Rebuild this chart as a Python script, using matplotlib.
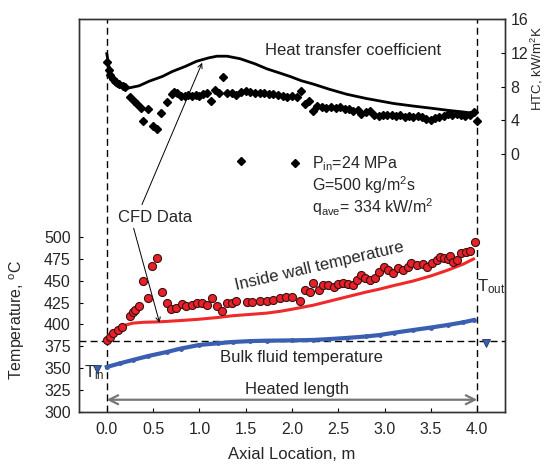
import matplotlib
matplotlib.use('Agg')

import matplotlib.pyplot as plt
from matplotlib.lines import Line2D

plt.rcParams['font.family'] = ['Liberation Sans', 'DejaVu Sans']
plt.rcParams['mathtext.default'] = 'regular'

# heat transfer coefficient, kW/m2K
htc_exp_x = [0.00, 0.02, 0.04, 0.07, 0.10, 0.13, 0.17, 0.20, 0.25, 0.29, 0.33, 0.37,
             0.39, 0.44, 0.50, 0.54, 0.59, 0.65, 0.70, 0.73, 0.76, 0.80, 0.84, 0.88,
             0.92, 0.96, 1.00, 1.04, 1.08, 1.13, 1.17, 1.21, 1.26, 1.30, 1.35, 1.40,
             1.45, 1.50, 1.55, 1.60, 1.65, 1.70, 1.75, 1.80, 1.85, 1.90, 1.95, 2.00,
             2.05, 2.10, 2.14, 2.18, 2.23, 2.27, 2.32, 2.37, 2.42, 2.47, 2.52, 2.57,
             2.62, 2.66, 2.71, 2.75, 2.80, 2.84, 2.89, 2.94, 2.98, 3.03, 3.08, 3.12,
             3.17, 3.22, 3.26, 3.31, 3.36, 3.40, 3.45, 3.50, 3.54, 3.59, 3.64, 3.68,
             3.73, 3.78, 3.82, 3.87, 3.92, 3.96, 4.00, 1.45]
htc_exp = [10.9, 10.0, 9.4, 8.9, 8.6, 8.3, 8.1, 7.9, 6.8, 6.3, 5.9, 5.5,
           3.9, 5.3, 3.3, 3.0, 4.9, 6.2, 7.1, 7.4, 7.2, 6.9, 6.9, 7.0,
           6.9, 7.0, 6.9, 7.1, 7.3, 6.3, 7.6, 7.2, 9.1, 7.3, 7.2, 7.0,
           7.4, 7.5, 7.4, 7.3, 7.3, 7.2, 7.1, 7.1, 7.0, 6.9, 6.8, 6.9,
           6.8, 7.5, 5.9, 6.3, 5.1, 5.7, 5.6, 5.5, 5.6, 5.5, 5.6, 5.3,
           5.4, 5.1, 5.2, 4.8, 5.0, 5.1, 4.7, 4.5, 4.6, 4.7, 4.7, 4.5,
           4.6, 4.4, 4.5, 4.4, 4.5, 4.4, 4.2, 4.0, 4.3, 4.4, 4.5, 4.8,
           4.6, 4.8, 4.7, 4.5, 4.7, 5.0, 3.9, -0.8]

htc_cfd_x = [0.0, 0.03, 0.065, 0.12, 0.22, 0.35, 0.46, 0.6, 0.71, 0.85, 0.97, 1.1,
             1.19, 1.3, 1.44, 1.6, 1.73, 1.87, 1.98, 2.1, 2.23, 2.4, 2.59, 2.8,
             2.95, 3.1, 3.31, 3.5, 3.68, 3.85, 3.96]
htc_cfd = [11.9, 10.0, 8.5, 8.0, 7.8, 8.1, 8.65, 9.2, 9.8, 10.4, 11.0, 11.4,
           11.6, 11.6, 11.3, 10.7, 10.1, 9.6, 9.2, 8.7, 8.3, 7.7, 7.1, 6.6,
           6.3, 6.0, 5.7, 5.45, 5.2, 5.0, 4.85]

# inside wall temperature, deg C
wall_exp_x = [0.00, 0.03, 0.07, 0.12, 0.16, 0.25, 0.28, 0.31, 0.35, 0.39, 0.45, 0.49,
              0.54, 0.60, 0.65, 0.69, 0.75, 0.81, 0.86, 0.92, 0.97, 1.03, 1.08, 1.14,
              1.19, 1.24, 1.30, 1.35, 1.40, 1.51, 1.57, 1.65, 1.73, 1.80, 1.87, 1.94,
              2.00, 2.09, 2.14, 2.19, 2.23, 2.29, 2.34, 2.39, 2.45, 2.50, 2.55, 2.61,
              2.66, 2.70, 2.74, 2.79, 2.84, 2.90, 2.94, 2.99, 3.04, 3.09, 3.15, 3.20,
              3.25, 3.29, 3.35, 3.41, 3.46, 3.51, 3.57, 3.60, 3.64, 3.68, 3.71, 3.74,
              3.78, 3.83, 3.88, 3.92, 3.98]
wall_exp = [382, 386, 390, 393.7, 397, 409.7, 414, 416.6, 421, 449.7, 430, 466.9,
            476, 437, 424.6, 417.7, 418.9, 423.4, 421, 422.3, 424.6, 424.6, 422.3, 430,
            421, 415.4, 424.6, 424.6, 426.9, 425.7, 425.7, 427, 427, 428, 430, 431.5,
            431.5, 427, 439.4, 437, 447.4, 439.4, 445, 445, 443, 446, 447.4, 446,
            445, 451, 456.6, 453, 451, 453, 460, 465.7, 462, 458.9, 464.6, 462,
            465.7, 470, 468, 469, 465.7, 470, 473.7, 477, 476, 474.8, 478, 471.4,
            473.7, 481.7, 482.9, 484, 494.3]

wall_cfd_x = [0.0, 0.07, 0.14, 0.21, 0.28, 0.4, 0.57, 0.8, 1.0, 1.2, 1.36, 1.55, 1.73,
              1.87, 1.98, 2.23, 2.4, 2.59, 2.8, 2.95, 3.1, 3.31, 3.5, 3.68, 3.85, 3.96]
wall_cfd = [382, 390, 396, 399.5, 401.5, 402.5, 403, 404.5, 406, 408, 410, 411.5, 413,
            415, 417, 422, 426.5, 431.5, 437, 440.5, 444.5, 449.7, 455.5, 462, 469, 474.8]

# bulk fluid temperature, deg C
bulk_x = [0.0, 0.14, 0.28, 0.45, 0.65, 0.8, 1.0, 1.2, 1.36, 1.55, 1.73, 2.0, 2.23,
          2.4, 2.59, 2.8, 2.95, 3.1, 3.31, 3.5, 3.68, 3.85, 3.96]
bulk = [351.4, 355.5, 359.4, 364, 368.6, 372.5, 376.6, 378.5, 380, 381, 381.5, 381.8, 382.3,
        383.3, 384.6, 386.3, 388, 390.5, 393.7, 396.5, 399.4, 402.5, 405]

t_pc = 381          # pseudocritical temperature
t_in = 349
t_out = 379
heated_start, heated_end = 0.0, 4.0

text_c = '#262626'

fig = plt.figure(figsize=(5.47, 4.66), dpi=100)
ax = fig.add_axes([0.1444, 0.1159, 0.7788, 0.8433])
ax2 = ax.twinx()

ax.set_xlim(-0.3, 4.3)
ax.set_ylim(300, 749)
ax2.set_ylim(-30.5, 16)

ax.set_xticks([0, 0.5, 1.0, 1.5, 2.0, 2.5, 3.0, 3.5, 4.0])
ax.set_xticklabels(['0.0', '0.5', '1.0', '1.5', '2.0', '2.5', '3.0', '3.5', '4.0'])
ax.set_yticks(range(300, 501, 25))
ax2.set_yticks([0, 4, 8, 12, 16])
for a in (ax, ax2):
    a.tick_params(direction='in', length=3, labelsize=11.5, labelcolor=text_c,
                  width=0.8, pad=6)
    for s in a.spines.values():
        s.set_color('#333333')
        s.set_linewidth(1.0)
ax.tick_params(axis='x', pad=7)
ax2.tick_params(axis='y', pad=4)

ax.set_xlabel('Axial Location, m', fontsize=12, color=text_c)
ax.xaxis.set_label_coords(0.5, -0.088)
ax.set_ylabel('Temperature, $^o$C', fontsize=11.5, color=text_c)
ax.yaxis.set_label_coords(-0.122, 0.234)
ax2.set_ylabel('HTC, kW/m$^2$K', fontsize=9.5, color=text_c)
ax2.yaxis.set_label_coords(1.056, 0.873)

dash = (0, (5, 3))
ax.axhline(t_pc, color='k', ls=dash, lw=1)
ax.axvline(heated_start, color='k', ls=dash, lw=1)
ax.axvline(heated_end, color='k', ls=dash, lw=1)

# temperatures
ax.plot(bulk_x, bulk, color='#3a5fb0', lw=3, marker='o', ms=2.5, zorder=3)
ax.plot(wall_cfd_x, wall_cfd, color='#f02a2a', lw=2.2, zorder=3)
ax.plot(wall_exp_x, wall_exp, 'o', color='#e8202a', mec='#3a1010', mew=0.8, ms=5.8, zorder=4)

ax.plot([-0.11], [t_in], 'v', color='#3a5fb0', ms=6, mec='#223366', mew=0.6, zorder=5)
ax.plot([4.09], [t_out], 'v', color='#3a5fb0', ms=6, mec='#223366', mew=0.6)
ax.text(-0.25, 345, 'T$_{in}$', fontsize=12, color=text_c, va='center')
ax.text(4.0, 443, 'T$_{out}$', fontsize=12, color=text_c, va='center')

# HTC
ax2.plot(htc_cfd_x, htc_cfd, color='k', lw=2)
ax2.plot(htc_exp_x, htc_exp, 'D', color='k', ms=4.5)

# heated length
ax.annotate('', xy=(heated_end, 314), xytext=(heated_start, 314),
            arrowprops=dict(arrowstyle='<->', color='#777777', lw=1.6, mutation_scale=16,
                            shrinkA=0, shrinkB=0))
ax.text(2.05, 326, 'Heated length', fontsize=12, color=text_c, ha='center', va='center')
ax.text(2.1, 362, 'Bulk fluid temperature', fontsize=12, color=text_c, ha='center', va='center')
ax.text(2.3, 467, 'Inside wall temperature', fontsize=12, color=text_c, ha='center',
        va='center', rotation=13, rotation_mode='anchor')
ax.text(2.66, 713, 'Heat transfer coefficient', fontsize=12, color=text_c,
        ha='center', va='center')

ax.text(0.52, 522, 'CFD Data', fontsize=12, color=text_c, ha='center', va='center')
ax.annotate('', xy=(1.03, 699), xytext=(0.38, 537),
            arrowprops=dict(arrowstyle='->', color='k', lw=0.7, mutation_scale=8,
                            shrinkA=0, shrinkB=0))
ax.annotate('', xy=(0.57, 402), xytext=(0.29, 510),
            arrowprops=dict(arrowstyle='->', color='k', lw=0.7, mutation_scale=8,
                            shrinkA=0, shrinkB=0))

# conditions
handle = Line2D([], [], ls='none', marker='D', color='k', ms=4.5)
ax2.legend([handle], ['P$_{in}$=24 MPa'], loc='center left', bbox_to_anchor=(0.4866, 0.632),
           frameon=False, borderpad=0, borderaxespad=0, handlelength=1.1,
           handletextpad=0.5, fontsize=11.5, labelcolor=text_c)
ax.text(0.547, 0.576, 'G=500 kg/m$^2$s', transform=ax.transAxes, fontsize=11.5,
        color=text_c, va='center')
ax.text(0.547, 0.522, 'q$_{ave}$= 334 kW/m$^2$', transform=ax.transAxes, fontsize=11.5,
        color=text_c, va='center')

fig.savefig('out.png', dpi=100)
